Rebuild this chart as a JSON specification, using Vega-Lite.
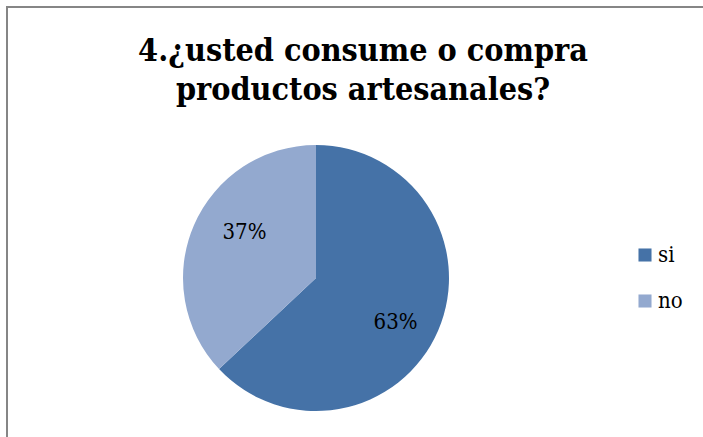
{
  "$schema": "https://vega.github.io/schema/vega-lite/v6.json",
  "autosize": {"type": "pad"},
  "padding": {"left": 6, "top": 6, "right": 0, "bottom": 0},
  "background": "white",
  "spacing": 0,
  "bounds": "flush",
  "hconcat": [
    {
      "width": 618,
      "height": 542,
      "title": {
        "text": ["4.¿usted consume o compra", "productos artesanales?"],
        "font": "DejaVu Serif Condensed",
        "fontSize": 32,
        "fontWeight": "bold",
        "color": "black",
        "anchor": "middle",
        "frame": "group",
        "lineHeight": 39,
        "offset": -100,
        "dx": 47
      },
      "view": {"stroke": "#868686", "strokeWidth": 2, "strokeDash": [618, 1160, 542]},
      "data": {
        "values": [
          {"respuesta": "si", "porcentaje": 63, "etiqueta": "63%"},
          {"respuesta": "no", "porcentaje": 37, "etiqueta": "37%"}
        ]
      },
      "layer": [
        {
          "mark": {"type": "arc", "outerRadius": 133},
          "encoding": {
            "theta": {"field": "porcentaje", "type": "quantitative", "stack": true},
            "order": {"field": "porcentaje", "sort": "descending"},
            "color": {
              "field": "respuesta",
              "type": "nominal",
              "scale": {"domain": ["si", "no"], "range": ["#4572A7", "#93A9CF"]},
              "legend": {
                "orient": "none",
                "legendX": 627,
                "legendY": 237,
                "title": null,
                "labelFont": "DejaVu Serif Condensed",
                "labelFontSize": 22,
                "labelColor": "black",
                "symbolType": "square",
                "symbolSize": 170,
                "symbolStrokeWidth": 0,
                "rowPadding": 24,
                "labelOffset": 2,
                "padding": 0
              }
            }
          }
        },
        {
          "mark": {"type": "text", "radius": 88, "thetaOffset": 0.13, "dx": 4, "dy": -1, "font": "DejaVu Serif Condensed", "fontSize": 22, "baseline": "middle", "align": "center", "color": "black"},
          "encoding": {
            "theta": {"field": "porcentaje", "type": "quantitative", "stack": true},
            "order": {"field": "porcentaje", "sort": "descending"},
            "text": {"field": "etiqueta", "type": "nominal"}
          }
        }
      ]
    },
    {
      "width": 80,
      "height": 542,
      "view": {"stroke": "#868686", "strokeWidth": 2, "strokeDash": [80, 3000]},
      "data": {"values": []},
      "mark": "rule",
      "encoding": {}
    }
  ]
}
